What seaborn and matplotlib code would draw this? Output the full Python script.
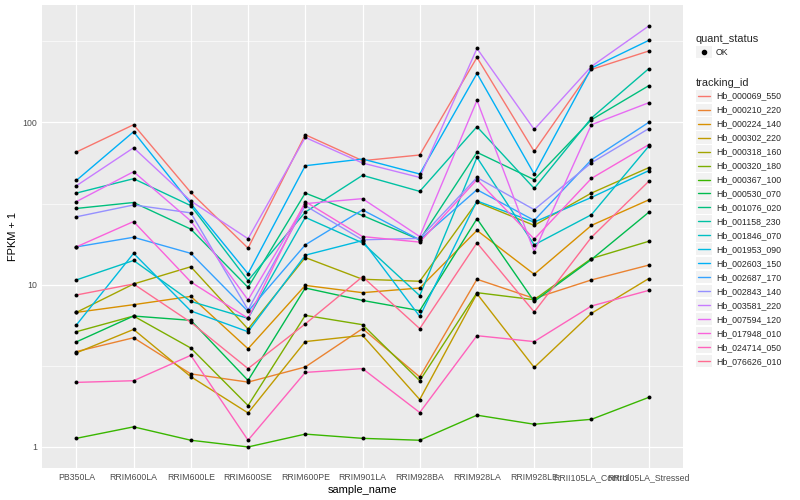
import numpy as np
import pandas as pd
import matplotlib
matplotlib.use("Agg")
import matplotlib.pyplot as plt
import seaborn as sns
from matplotlib.legend_handler import HandlerBase
from matplotlib.patches import Rectangle
from matplotlib.lines import Line2D

samples = ["PB350LA", "RRIM600LA", "RRIM600LE", "RRIM600SE", "RRIM600PE",
           "RRIM901LA", "RRIM928BA", "RRIM928LA", "RRIM928LE",
           "RRII105LA_Control", "RRII105LA_Stressed"]

tracking_ids = ["Hb_000069_550", "Hb_000210_220", "Hb_000224_140", "Hb_000302_220",
                "Hb_000318_160", "Hb_000320_180", "Hb_000367_100", "Hb_000530_070",
                "Hb_001076_020", "Hb_001158_230", "Hb_001846_070", "Hb_001953_090",
                "Hb_002603_150", "Hb_002687_170", "Hb_002843_140", "Hb_003581_220",
                "Hb_007594_120", "Hb_017948_010", "Hb_024714_050", "Hb_076626_010"]

# FPKM + 1 per sample
hb_000069_550 = [65.7, 96.8, 37.0, 16.8, 84.0, 58.1, 63.0, 251.5, 66.3, 212.1, 275.4]
hb_000210_220 = [3.87, 4.71, 2.82, 2.51, 3.11, 5.36, 2.70, 10.8, 8.23, 10.7, 13.2]
hb_000224_140 = [6.75, 7.53, 8.47, 4.03, 9.90, 8.93, 9.54, 21.6, 11.6, 23.2, 33.3]
hb_000302_220 = [3.80, 5.30, 2.71, 1.62, 4.46, 4.87, 1.96, 8.80, 3.09, 6.66, 10.9]
hb_000318_160 = [6.75, 10.1, 12.9, 5.33, 14.7, 10.8, 10.5, 32.3, 23.2, 36.7, 52.6]
hb_000320_180 = [5.13, 6.41, 4.07, 1.80, 6.47, 5.67, 2.56, 8.93, 8.08, 14.5, 18.5]
hb_000367_100 = [1.13, 1.33, 1.10, 1.00, 1.20, 1.13, 1.10, 1.57, 1.38, 1.48, 2.02]
hb_000530_070 = [4.44, 6.41, 6.03, 2.57, 9.54, 8.00, 6.92, 25.5, 7.89, 14.3, 27.9]
hb_001076_020 = [29.5, 32.1, 22.0, 9.63, 36.7, 26.7, 18.9, 65.4, 44.4, 103.9, 168.3]
hb_001158_230 = [36.7, 45.0, 30.7, 10.6, 28.0, 47.2, 37.6, 94.1, 39.2, 106.4, 214.2]
hb_001846_070 = [10.7, 14.1, 7.89, 6.2, 26.0, 18.1, 8.56, 60.9, 17.6, 27.0, 71.2]
hb_001953_090 = [5.64, 15.6, 6.89, 5.13, 15.2, 18.7, 6.38, 32.8, 24.3, 34.5, 50.4]
hb_002603_150 = [43.9, 87.6, 31.6, 11.7, 54.1, 59.5, 48.1, 200.4, 48.1, 216.3, 320.1]
hb_002687_170 = [17.1, 19.6, 15.6, 6.85, 17.6, 28.9, 18.9, 38.5, 24.9, 58.9, 100.0]
hb_002843_140 = [26.2, 31.0, 27.7, 7.0, 30.7, 18.9, 19.3, 45.8, 29.0, 56.4, 91.5]
hb_003581_220 = [40.7, 69.8, 32.8, 19.2, 80.8, 56.2, 45.8, 285.7, 90.5, 221.3, 392.6]
hb_007594_120 = [32.5, 49.7, 24.7, 8.05, 31.6, 33.9, 19.8, 136.6, 16.0, 96.8, 132.2]
hb_017948_010 = [17.1, 24.5, 10.4, 6.2, 32.5, 19.8, 18.3, 44.4, 19.1, 45.2, 72.9]
hb_024714_050 = [2.50, 2.56, 3.67, 1.10, 2.88, 3.04, 1.63, 4.85, 4.46, 7.39, 9.22]
hb_076626_010 = [8.64, 10.1, 5.86, 3.04, 5.73, 11.2, 5.36, 18.1, 6.79, 19.6, 43.3]

series_values = [hb_000069_550, hb_000210_220, hb_000224_140, hb_000302_220,
                 hb_000318_160, hb_000320_180, hb_000367_100, hb_000530_070,
                 hb_001076_020, hb_001158_230, hb_001846_070, hb_001953_090,
                 hb_002603_150, hb_002687_170, hb_002843_140, hb_003581_220,
                 hb_007594_120, hb_017948_010, hb_024714_050, hb_076626_010]

colors = ["#F8766D", "#EA8331", "#D89000", "#C09B00", "#A3A500", "#7CAE00",
          "#39B600", "#00BB4E", "#00BF7D", "#00C1A3", "#00BFC4", "#00BAE0",
          "#00B0F6", "#35A2FF", "#9590FF", "#C77CFF", "#E76BF3", "#FA62DB",
          "#FF62BC", "#FF6C91"]

rows = []
for tid, vals in zip(tracking_ids, series_values):
    for s, v in zip(samples, vals):
        rows.append({"tracking_id": tid, "sample_name": s, "fpkm1": v, "quant_status": "OK"})
df = pd.DataFrame(rows)

sns.set_theme(style="darkgrid")
plt.rcParams["font.family"] = ["Liberation Sans", "DejaVu Sans"]

fig = plt.figure(figsize=(8, 5), dpi=100)
ax = fig.add_axes([42/800, 1-468/500, (683-42)/800, (468-5)/500])
ax.set_facecolor("#EBEBEB")

palette = dict(zip(tracking_ids, colors))
sns.lineplot(data=df, x="sample_name", y="fpkm1", hue="tracking_id", palette=palette,
             hue_order=tracking_ids, sort=False, estimator=None, linewidth=1.0,
             legend=False, ax=ax, zorder=3)
sns.scatterplot(data=df, x="sample_name", y="fpkm1", color="black", s=8,
                linewidth=0, legend=False, ax=ax, zorder=4)

ax.set_yscale("log")
ax.set_ylim(10**-0.1297, 10**2.7237)
ax.set_xlim(-0.6, len(samples)-0.4)
ax.set_yticks([1, 10, 100])
ax.set_yticklabels(["1", "10", "100"])
ax.set_yticks([10**0.5, 10**1.5, 10**2.5], minor=True)
ax.yaxis.set_minor_formatter(matplotlib.ticker.NullFormatter())
ax.grid(True, which="major", color="white", linewidth=0.9)
ax.grid(True, which="minor", axis="y", color="white", linewidth=0.45)
ax.grid(False, which="minor", axis="x")
for sp in ax.spines.values():
    sp.set_visible(False)
ax.tick_params(axis="both", which="major", length=2.0, width=0.5, color="#333333",
               labelsize=6.3, labelcolor="#4D4D4D", pad=1.6)
ax.tick_params(axis="both", which="minor", length=0)
ax.set_xlabel("sample_name", fontsize=7.9, color="black", labelpad=2)
ax.set_ylabel("FPKM + 1", fontsize=7.9, color="black", labelpad=3)


class KeyHandler(HandlerBase):
    def __init__(self, kind):
        super().__init__()
        self.kind = kind

    def create_artists(self, legend, orig_handle, xdescent, ydescent, width, height, fontsize, trans):
        bg = Rectangle((-xdescent, -ydescent), width, height, facecolor="#F2F2F2",
                       edgecolor="none", transform=trans)
        arts = [bg]
        if self.kind == "line":
            ln = Line2D([-xdescent + width*0.12, -xdescent + width*0.88],
                        [-ydescent + height/2]*2, color=orig_handle.get_color(),
                        linewidth=1.0, transform=trans)
            arts.append(ln)
        else:
            pt = Line2D([-xdescent + width/2], [-ydescent + height/2], marker="o",
                        markersize=3.0, color="black", linestyle="none", transform=trans)
            arts.append(pt)
        return arts


leg_kw = dict(loc="upper left", frameon=False, borderpad=0, borderaxespad=0,
              handlelength=1.85, handleheight=1.8, labelspacing=0.18,
              handletextpad=0.45, fontsize=6.3, title_fontsize=7.9, alignment="left")

pt_handle = Line2D([], [], color="black")
leg1 = fig.legend([pt_handle], ["OK"], title="quant_status",
                  bbox_to_anchor=(696/800, 1-34/500),
                  handler_map={pt_handle: KeyHandler("point")}, **leg_kw)

line_handles = [Line2D([], [], color=c) for c in colors]
hmap = {h: KeyHandler("line") for h in line_handles}
leg2 = fig.legend(line_handles, tracking_ids, title="tracking_id",
                  bbox_to_anchor=(696/800, 1-78/500), handler_map=hmap, **leg_kw)

fig.savefig("out.png", dpi=100)
